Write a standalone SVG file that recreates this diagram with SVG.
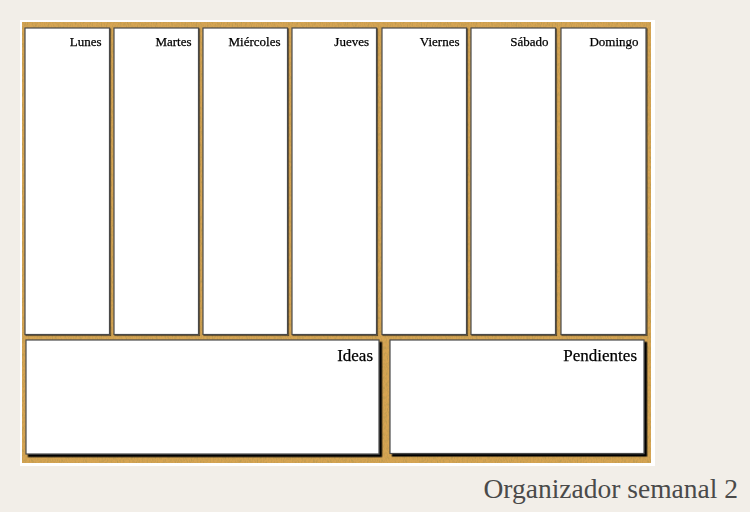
<svg xmlns="http://www.w3.org/2000/svg" width="750" height="512" viewBox="0 0 750 512">
<defs>
<filter id="grain" x="0" y="0" width="100%" height="100%">
<feTurbulence type="fractalNoise" baseFrequency="0.8 0.3" numOctaves="3" seed="4" result="n"/>
<feColorMatrix in="n" type="matrix" values="0 0 0 0 0.5  0 0 0 0 0.32  0 0 0 0 0.08  0 0 0 2.2 -0.9" result="c"/>
<feComposite in="c" in2="SourceGraphic" operator="in" result="m"/>
<feMerge><feMergeNode in="SourceGraphic"/><feMergeNode in="m"/></feMerge>
</filter>
<filter id="sh" x="-5%" y="-5%" width="110%" height="115%">
<feDropShadow dx="1" dy="1" stdDeviation="0.5" flood-color="#000" flood-opacity="0.55"/>
</filter>
<filter id="shb" x="-5%" y="-5%" width="110%" height="115%">
<feDropShadow dx="2.5" dy="2.5" stdDeviation="0.4" flood-color="#000" flood-opacity="1"/>
</filter>
</defs>
<style>
.day{fill:#fff;stroke:#4a4a4a;stroke-width:1.2}
.lbl{font-family:"Liberation Serif","DejaVu Serif",serif;font-size:13px;fill:#000;stroke:#000;stroke-width:0.25;text-anchor:end}
.big{font-family:"Liberation Serif","DejaVu Serif",serif;font-size:17px;fill:#000;stroke:#000;stroke-width:0.25;text-anchor:end}
</style>
<rect width="750" height="512" fill="#f2eee8"/>
<rect x="20" y="20" width="635" height="446" fill="#ffffff"/>
<rect x="22" y="22" width="629" height="441" fill="#d6a452" filter="url(#grain)"/>
<g id="lunes" filter="url(#sh)"><rect class="day" x="25" y="28" width="84.5" height="306.5"/><text class="lbl" x="101.5" y="46">Lunes</text></g>
<g id="martes" filter="url(#sh)"><rect class="day" x="114" y="28" width="84.5" height="306.5"/><text class="lbl" x="191.5" y="46">Martes</text></g>
<g id="miercoles" filter="url(#sh)"><rect class="day" x="203" y="28" width="84.5" height="306.5"/><text class="lbl" x="280.5" y="46">Miércoles</text></g>
<g id="jueves" filter="url(#sh)"><rect class="day" x="292" y="28" width="84.5" height="306.5"/><text class="lbl" x="369" y="46">Jueves</text></g>
<g id="viernes" filter="url(#sh)"><rect class="day" x="382" y="28" width="84.5" height="306.5"/><text class="lbl" x="459.5" y="46">Viernes</text></g>
<g id="sabado" filter="url(#sh)"><rect class="day" x="471" y="28" width="84.5" height="306.5"/><text class="lbl" x="548.5" y="46">Sábado</text></g>
<g id="domingo" filter="url(#sh)"><rect class="day" x="561" y="28" width="85" height="306.5"/><text class="lbl" x="638.5" y="46">Domingo</text></g>
<g id="ideas" filter="url(#shb)"><rect class="day" x="26" y="340" width="353" height="114"/><text class="big" x="373" y="360.5">Ideas</text></g>
<g id="pendientes" filter="url(#shb)"><rect class="day" x="390" y="340" width="254" height="113.5"/><text class="big" x="637" y="360.5">Pendientes</text></g>
<g id="connectors"/>
<text x="738" y="498" font-family="Liberation Serif, DejaVu Serif, serif" font-size="27.5" fill="#4a4a4a" text-anchor="end">Organizador semanal 2</text>
</svg>
